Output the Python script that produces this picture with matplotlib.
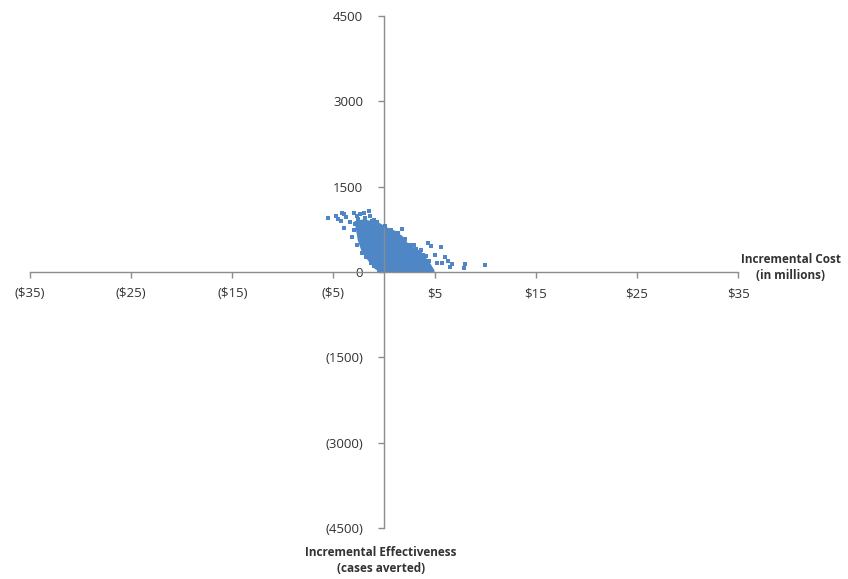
import matplotlib
matplotlib.use("Agg")
import matplotlib.pyplot as plt

# Tick positions and labels
x_ticks = [-35, -25, -15, -5, 5, 15, 25, 35]
x_labels = ["($35)", "($25)", "($15)", "($5)", "$5", "$15", "$25", "$35"]
y_ticks = [-4500, -3000, -1500, 0, 1500, 3000, 4500]
y_labels = ["(4500)", "(3000)", "(1500)", "0", "1500", "3000", "4500"]

# Dense core of the simulation cloud (envelope)
core_cost = [-2.84, -2.02, -0.53, 0.30, 1.12, 1.78, 2.27, 2.93, 3.59, 4.09,
             4.58, 4.91, 4.90, -0.20, -0.86, -1.52, -2.18, -2.51, -2.74]
core_eff = [882, 912, 854, 767, 707, 619, 503, 416, 356, 240,
            123, 23, 0, 0, 65, 210, 386, 561, 795]

# Scattered simulation points outside / on the edge of the core
pt_cost = [-5.58, -4.72, -4.59, -4.15, -3.93, -4.25, -3.73, -3.93, -3.40, -3.17,
           -2.94, -2.67, -2.34, -2.02, -1.52, -1.42, -1.03, -3.01, 1.78, 4.35,
           4.68, 5.59, 5.00, 6.06, 6.33, 6.73, 6.56, 8.04, 7.87, 9.95,
           5.24, 5.74, 4.25, 4.58, -2.90, -2.60, -2.30, -1.90, -1.20, -0.70,
           0.10, 0.70, 1.40, 2.10, 2.60, 3.20, 3.90, 4.40, -2.45, -2.70,
           -2.20, -1.75, -1.30, -0.95, -0.50, 3.00, 3.70, 4.20]
pt_eff = [942, 982, 924, 1040, 1017, 900, 959, 766, 882, 619,
          1040, 982, 1017, 1040, 1075, 982, 912, 737, 749, 514,
          456, 433, 298, 268, 193, 140, 82, 140, 65, 118,
          153, 153, 35, 35, 850, 930, 870, 950, 890, 880,
          800, 740, 690, 580, 470, 400, 300, 200, 680, 470,
          330, 260, 160, 100, 40, 470, 380, 280]

blue = "#4F86C6"
axis_grey = "#8C8C8C"
text_col = "#333333"

plt.rcParams["font.family"] = ["Open Sans", "DejaVu Sans"]

fig = plt.figure(figsize=(8.48, 5.79), dpi=100)
ax = fig.add_axes([30 / 848, (579 - 528) / 579, 708 / 848, 512 / 579])

ax.fill(core_cost, core_eff, color=blue, lw=1.2, ec=blue, zorder=2)
ax.scatter(pt_cost, pt_eff, s=8, marker="s", color=blue, lw=0, zorder=3)

ax.set_xlim(-35, 35)
ax.set_ylim(-4500, 4500)

for side in ["top", "right"]:
    ax.spines[side].set_visible(False)
ax.spines["left"].set_position(("data", 0))
ax.spines["bottom"].set_position(("data", 0))
for side in ["left", "bottom"]:
    ax.spines[side].set_color(axis_grey)
    ax.spines[side].set_linewidth(1.0)

ax.set_xticks(x_ticks)
ax.set_xticklabels(x_labels)
ax.set_yticks(y_ticks)
ax.set_yticklabels(y_labels)
ax.tick_params(axis="x", direction="out", length=4, width=1, color=axis_grey,
               pad=7, labelsize=9.5, labelcolor=text_col)
ax.tick_params(axis="y", direction="out", length=4, width=1, color=axis_grey,
               pad=11, labelsize=9.5, labelcolor=text_col)

fig.text(791 / 848, 1 - 268 / 579, "Incremental Cost\n(in millions)",
         ha="center", va="center", fontsize=8.5, fontweight="bold",
         color=text_col, linespacing=1.3)
fig.text(381 / 848, 1 - 560 / 579, "Incremental Effectiveness\n(cases averted)",
         ha="center", va="center", fontsize=8.5, fontweight="bold",
         color=text_col, linespacing=1.3)

fig.savefig("out.png", dpi=100)
